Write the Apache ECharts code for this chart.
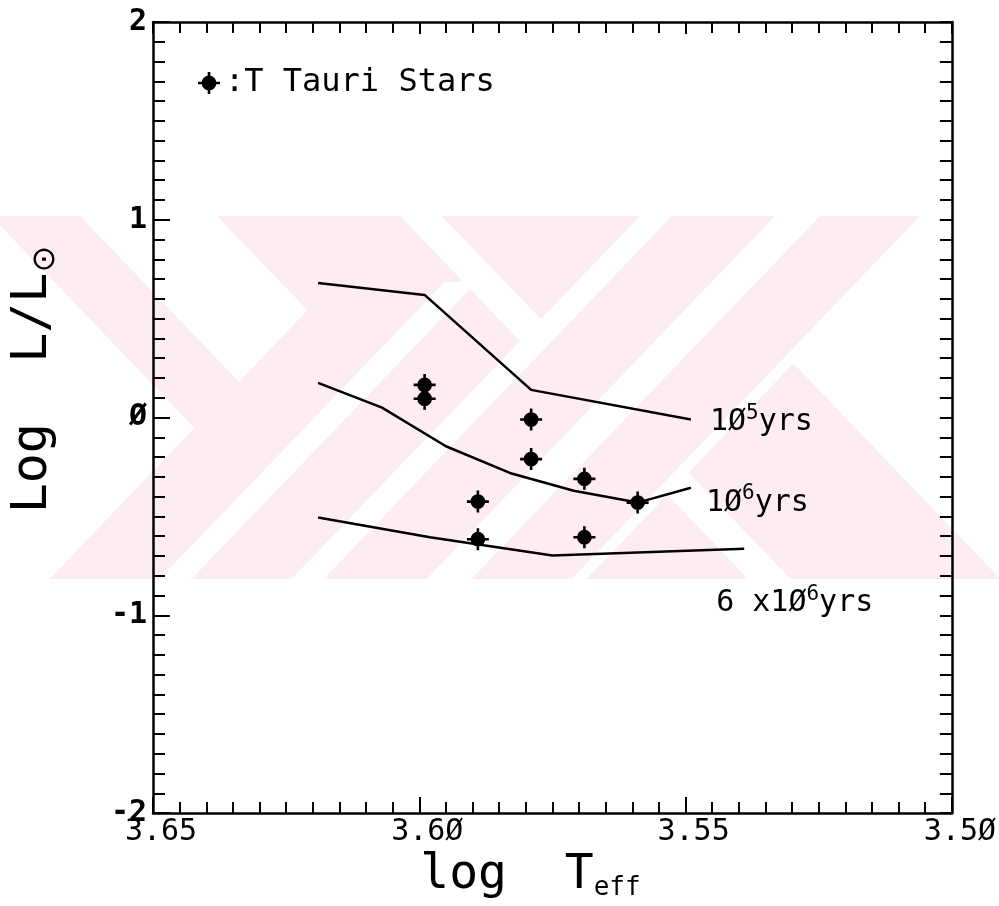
<!DOCTYPE html>
<html>
<head>
<meta charset="utf-8">
<script src="https://cdn.jsdelivr.net/npm/echarts@6/dist/echarts.min.js"></script>
<style>
  html, body { margin: 0; padding: 0; background: #ffffff; }
  #chart { width: 999px; height: 906px; }
</style>
</head>
<body>
<div id="chart"></div>
<script>
// H-R diagram of T Tauri stars with pre-main-sequence isochrones

// axis ranges (log Teff runs right-to-left)
const teffMin = 3.50, teffMax = 3.65, teffStep = 0.05;
const lumMin = -2, lumMax = 2, lumStep = 1;

// isochrones: [log Teff, log L/Lsun]
const iso1e5 = [[3.619, 0.68], [3.599, 0.62], [3.579, 0.14], [3.549, -0.01]];
const iso1e6 = [[3.619, 0.175], [3.607, 0.05], [3.595, -0.145], [3.583, -0.28],
                [3.571, -0.37], [3.559, -0.43], [3.549, -0.355]];
const iso6e6 = [[3.619, -0.505], [3.598, -0.605], [3.575, -0.697], [3.539, -0.663]];

// isochrone ages (mantissa, exponent)
const isoAgeMant = ['', '', '6 x'];
const isoAgeExp = ['5', '6', '6'];

// T Tauri stars
const starTeff = [3.599, 3.599, 3.579, 3.579, 3.569, 3.559, 3.589, 3.589, 3.569];
const starLum  = [0.165, 0.095, -0.01, -0.21, -0.31, -0.43, -0.425, -0.615, -0.605];

const MONO = "'DejaVu Sans Mono', 'Liberation Mono', monospace";
const slashZero = s => String(s).replace(/0/g, '\u00D8');

// filled dot with cross-shaped error bars
const STAR_PATH = 'path://M0 9.7 L22 9.7 L22 12.3 L0 12.3 Z M9.7 0 L12.3 0 L12.3 22 L9.7 22 Z ' +
                  'M3.6 11 A7.4 7.4 0 1 1 18.4 11 A7.4 7.4 0 1 1 3.6 11 Z';

// faint background watermark made of slanted stripes
const WM_TOP = 216, WM_BOT = 579, WM_K = 0.96;
const PINK = '#fdedf0';
function stripe(l, r, dir, yTop, fill) {
  const y0 = yTop === undefined ? WM_TOP : yTop;
  const d0 = dir * WM_K * (y0 - WM_TOP);
  const d1 = dir * WM_K * (WM_BOT - WM_TOP);
  return {
    type: 'polygon', z: -10, silent: true,
    shape: { points: [[l + d0, y0], [r + d0, y0], [r + d1, WM_BOT], [l + d1, WM_BOT]] },
    style: { fill: fill, stroke: null }
  };
}
const watermark = [
  stripe(398, 640, -1, undefined, PINK),
  stripe(-9, 80, 1, undefined, PINK),
  stripe(217, 400, 1, undefined, PINK),
  stripe(400, 442, 1, undefined, '#ffffff'),
  stripe(442, 652, 1, undefined, PINK),
  stripe(508, 540, -1, 282, '#ffffff'),
  stripe(640, 935, -1, undefined, '#ffffff'),
  stripe(672, 920, -1, undefined, PINK),
  stripe(775, 820, -1, undefined, '#ffffff')
];

const axisLine = { show: true, onZero: false, lineStyle: { color: '#000', width: 2.5 } };
const minorTickX = { show: true, splitNumber: 10, length: 11, lineStyle: { color: '#000', width: 2 } };
const minorTickY = { show: true, splitNumber: 10, length: 12, lineStyle: { color: '#000', width: 2 } };

const labelRich = {
  sup: { fontFamily: MONO, fontSize: 21, color: '#000', verticalAlign: 'middle', padding: [0, 0, 18, 0] }
};

function isoSeries(name, data, idx, offset) {
  return {
    name: name, type: 'line', data: data,
    xAxisIndex: 0, yAxisIndex: 0,
    symbol: 'none', smooth: false, z: 3,
    lineStyle: { color: '#000', width: 2.5 },
    endLabel: {
      show: true, distance: 0, align: 'left', verticalAlign: 'middle', offset: offset,
      formatter: () => isoAgeMant[idx] + '1\u00D8{sup|' + isoAgeExp[idx] + '}yrs',
      fontFamily: MONO, fontSize: 30, color: '#000', rich: labelRich
    }
  };
}

const chart = echarts.init(document.getElementById('chart'));
chart.setOption({
  animation: false,
  backgroundColor: '#ffffff',
  graphic: watermark,
  grid: { left: 152, right: 43, top: 22, bottom: 86 },
  legend: {
    left: 198, top: 67, padding: 0, itemWidth: 22, itemHeight: 22,
    selectedMode: false,
    data: [{ name: 'T Tauri Stars', icon: STAR_PATH }],
    formatter: n => ':' + n,
    textStyle: { fontFamily: MONO, fontSize: 32, color: '#000' }
  },
  xAxis: [{
    type: 'value', min: teffMin, max: teffMax, interval: teffStep, inverse: true,
    position: 'bottom',
    axisLine: axisLine,
    axisTick: { show: true, inside: true, length: 16, lineStyle: { color: '#000', width: 2 } },
    minorTick: minorTickX,
    splitLine: { show: false },
    axisLabel: {
      margin: 4, fontFamily: MONO, fontSize: 30, color: '#000', padding: [0, 0, 0, 16],
      formatter: v => slashZero(v.toFixed(2))
    },
    name: 'log  T{sub|eff}', nameLocation: 'middle', nameGap: 34,
    nameTextStyle: {
      fontFamily: MONO, fontSize: 48, color: '#000', padding: [0, 44, 0, 0],
      rich: { sub: { fontFamily: MONO, fontSize: 26, color: '#000', verticalAlign: 'middle', padding: [24, 0, 0, 0] } }
    }
  }, {
    type: 'value', min: teffMin, max: teffMax, interval: teffStep, inverse: true,
    position: 'top',
    axisLine: axisLine,
    axisTick: { show: true, inside: true, length: 12, lineStyle: { color: '#000', width: 2 } },
    minorTick: minorTickX,
    splitLine: { show: false },
    axisLabel: { show: false }
  }],
  yAxis: [{
    type: 'value', min: lumMin, max: lumMax, interval: lumStep,
    position: 'left',
    axisLine: axisLine,
    axisTick: { show: true, inside: true, length: 17, lineStyle: { color: '#000', width: 2 } },
    minorTick: minorTickY,
    splitLine: { show: false },
    axisLabel: {
      margin: 6, fontFamily: MONO, fontSize: 30, fontWeight: 'bold', color: '#000',
      formatter: v => slashZero(v)
    },
    name: 'Log  L/L{sub|\u2299}', nameLocation: 'middle', nameGap: 91,
    nameTextStyle: {
      fontFamily: MONO, fontSize: 50, color: '#000', padding: [0, 0, 0, 76],
      rich: { sub: { fontFamily: "'DejaVu Sans', sans-serif", fontSize: 32, color: '#000', verticalAlign: 'middle', padding: [26, 0, 0, 0] } }
    }
  }, {
    type: 'value', min: lumMin, max: lumMax, interval: lumStep,
    position: 'right',
    axisLine: axisLine,
    axisTick: { show: true, inside: true, length: 12, lineStyle: { color: '#000', width: 2 } },
    minorTick: minorTickY,
    splitLine: { show: false },
    axisLabel: { show: false }
  }],
  series: [
    isoSeries('1e5 yr', iso1e5, 0, [19, 3]),
    isoSeries('1e6 yr', iso1e6, 1, [15, 15]),
    isoSeries('6e6 yr', iso6e6, 2, [-28, 55]),
    {
      name: 'T Tauri Stars', type: 'scatter',
      xAxisIndex: 0, yAxisIndex: 0, z: 4,
      symbol: STAR_PATH, symbolSize: 22,
      itemStyle: { color: '#000', opacity: 1 },
      data: starTeff.map((t, i) => [t, starLum[i]])
    }
  ]
});
</script>
</body>
</html>
